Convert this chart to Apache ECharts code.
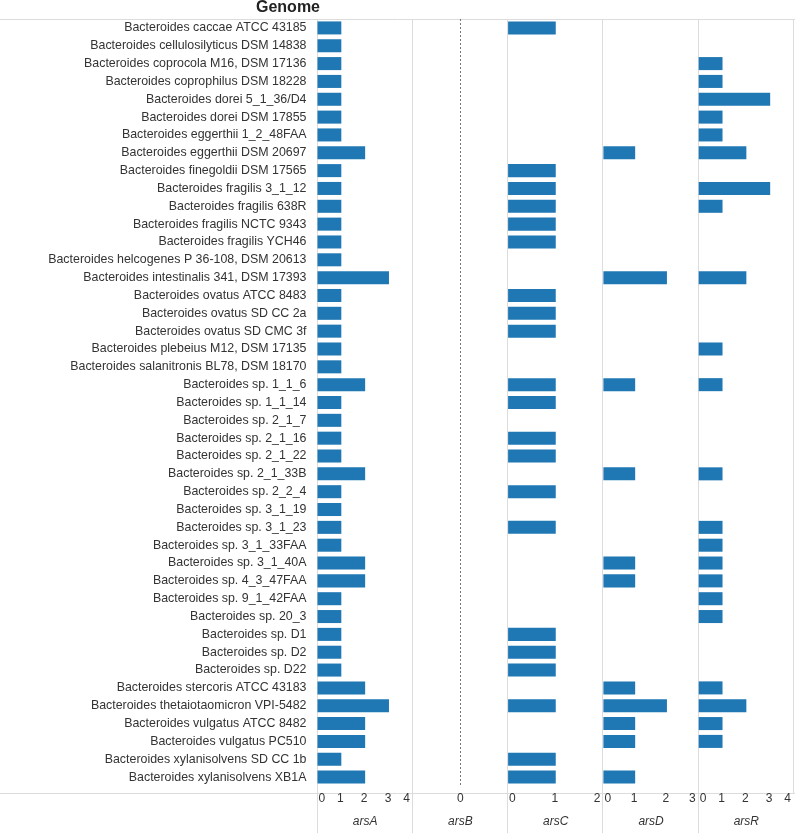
<!DOCTYPE html>
<html><head><meta charset="utf-8">
<script src="https://cdn.jsdelivr.net/npm/echarts@6/dist/echarts.min.js"></script>
<style>html,body{margin:0;padding:0;background:#fff}#c{width:795px;height:833px}</style>
</head><body><div id="c"></div>
<script>
const genomes = [
"Bacteroides caccae ATCC 43185","Bacteroides cellulosilyticus DSM 14838","Bacteroides coprocola M16, DSM 17136",
"Bacteroides coprophilus DSM 18228","Bacteroides dorei 5_1_36/D4","Bacteroides dorei DSM 17855",
"Bacteroides eggerthii 1_2_48FAA","Bacteroides eggerthii DSM 20697","Bacteroides finegoldii DSM 17565",
"Bacteroides fragilis 3_1_12","Bacteroides fragilis 638R","Bacteroides fragilis NCTC 9343",
"Bacteroides fragilis YCH46","Bacteroides helcogenes P 36-108, DSM 20613","Bacteroides intestinalis 341, DSM 17393",
"Bacteroides ovatus ATCC 8483","Bacteroides ovatus SD CC 2a","Bacteroides ovatus SD CMC 3f",
"Bacteroides plebeius M12, DSM 17135","Bacteroides salanitronis BL78, DSM 18170","Bacteroides sp. 1_1_6",
"Bacteroides sp. 1_1_14","Bacteroides sp. 2_1_7","Bacteroides sp. 2_1_16","Bacteroides sp. 2_1_22",
"Bacteroides sp. 2_1_33B","Bacteroides sp. 2_2_4","Bacteroides sp. 3_1_19","Bacteroides sp. 3_1_23",
"Bacteroides sp. 3_1_33FAA","Bacteroides sp. 3_1_40A","Bacteroides sp. 4_3_47FAA","Bacteroides sp. 9_1_42FAA",
"Bacteroides sp. 20_3","Bacteroides sp. D1","Bacteroides sp. D2","Bacteroides sp. D22",
"Bacteroides stercoris ATCC 43183","Bacteroides thetaiotaomicron VPI-5482","Bacteroides vulgatus ATCC 8482",
"Bacteroides vulgatus PC510","Bacteroides xylanisolvens SD CC 1b","Bacteroides xylanisolvens XB1A"
];
const arsA = [1,1,1,1,1,1,1,2,1,1,1,1,1,1,3,1,1,1,1,1,2,1,1,1,1,2,1,1,1,1,2,2,1,1,1,1,1,2,3,2,2,1,2];
const arsB = [0,0,0,0,0,0,0,0,0,0,0,0,0,0,0,0,0,0,0,0,0,0,0,0,0,0,0,0,0,0,0,0,0,0,0,0,0,0,0,0,0,0,0];
const arsC = [1,null,null,null,null,null,null,null,1,1,1,1,1,null,null,1,1,1,null,null,1,1,null,1,1,null,1,null,1,null,null,null,null,null,1,1,1,null,1,null,null,1,1];
const arsD = [null,null,null,null,null,null,null,1,null,null,null,null,null,null,2,null,null,null,null,null,1,null,null,null,null,1,null,null,null,null,1,1,null,null,null,null,null,1,2,1,1,null,1];
const arsR = [null,null,1,1,3,1,1,2,null,3,1,null,null,null,2,null,null,null,1,null,1,null,null,null,null,1,null,null,1,1,1,1,1,1,null,null,null,1,2,1,1,null,null];

const panelNames = ["arsA","arsB","arsC","arsD","arsR"];
const panelData = [arsA, arsB, arsC, arsD, arsR];
const panelMin = [0,-1,0,0,0];
const panelMax = [4,1,2,3,4];

const FONT = "'Liberation Sans', Arial, sans-serif";
const TOP = 19, BOTTOM_Y = 793, LEFT0 = 317.5, PW = 95.3, H = 833;
const grids = [], xAxes = [], yAxes = [], series = [], graphics = [];

panelNames.forEach((name, i) => {
  grids.push({left: LEFT0 + i*PW, width: PW, top: TOP, height: BOTTOM_Y - TOP, show: false, containLabel: false});
  xAxes.push({
    type: 'value', gridIndex: i, min: panelMin[i], max: panelMax[i], interval: 1,
    axisLine: {show: false}, axisTick: {show: false}, splitLine: {show: false},
    axisLabel: {
      color: '#333', fontFamily: FONT, fontSize: 12, margin: 7,
      padding: i === 1 ? 0 : [0, 3, 0, 1],
      alignMinLabel: i === 1 ? 'center' : 'left', alignMaxLabel: i === 1 ? 'center' : 'right',
      formatter: v => (i === 1 && v !== 0) ? '' : String(v)
    },
    name: name, nameLocation: 'middle', nameGap: 30,
    nameTextStyle: {color: '#333', fontFamily: FONT, fontSize: 12, fontStyle: 'italic'}
  });
  yAxes.push({
    type: 'category', gridIndex: i, data: genomes, inverse: true,
    axisLine: {show: false}, axisTick: {show: false}, splitLine: {show: false},
    axisLabel: i === 0 ? {show: true, interval: 0, color: '#333', fontFamily: FONT, fontSize: 12.4, margin: 11} : {show: false}
  });
  const s = {
    type: 'bar', xAxisIndex: i, yAxisIndex: i, data: panelData[i], barWidth: '73%',
    itemStyle: {color: '#1f77b4'}, silent: true, animation: false
  };
  if (i === 1) {
    s.markLine = {symbol: 'none', silent: true, label: {show: false},
      lineStyle: {color: '#777', type: [2, 2], width: 1}, data: [{xAxis: 0}]};
  }
  series.push(s);
});

// frame lines
const lc = '#dcdcdc';
graphics.push({type: 'line', shape: {x1: 0, y1: TOP + 0.5, x2: 795, y2: TOP + 0.5}, style: {stroke: lc, lineWidth: 1}, z: 0});
graphics.push({type: 'line', shape: {x1: 0, y1: BOTTOM_Y + 0.5, x2: 795, y2: BOTTOM_Y + 0.5}, style: {stroke: lc, lineWidth: 1}, z: 0});
for (let i = 0; i <= 5; i++) {
  const x = Math.round(LEFT0 + i*PW) - 0.5;
  graphics.push({type: 'line', shape: {x1: x, y1: TOP, x2: x, y2: i === 5 ? BOTTOM_Y : H}, style: {stroke: lc, lineWidth: 1}, z: 0});
}
graphics.push({type: 'text', x: 320, y: 8, style: {text: 'Genome', fill: '#222', font: "bold 16px " + FONT, textAlign: 'right', textVerticalAlign: 'middle'}});

const chart = echarts.init(document.getElementById('c'), null, {renderer: 'canvas'});
chart.setOption({
  animation: false,
  grid: grids, xAxis: xAxes, yAxis: yAxes, series: series, graphic: graphics
});
</script></body></html>
